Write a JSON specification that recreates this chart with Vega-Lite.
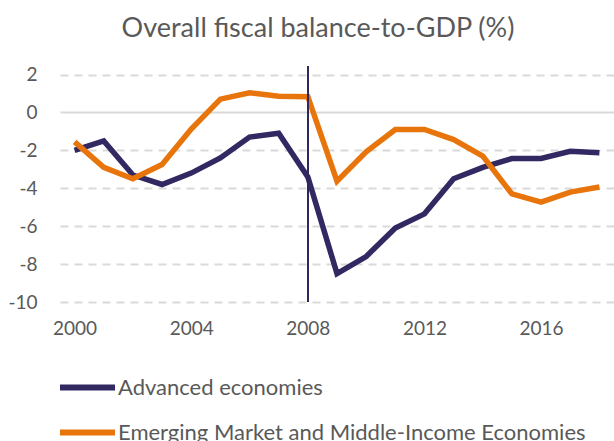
{
  "$schema": "https://vega.github.io/schema/vega-lite/v6.json",
  "width": 554,
  "height": 236,
  "autosize": {"type": "none"},
  "padding": {"left": 60, "top": 66, "right": 0, "bottom": 139},
  "background": "white",
  "title": {
    "text": "Overall fiscal balance-to-GDP (%)",
    "font": "Lato",
    "fontSize": 27,
    "fontWeight": "normal",
    "color": "#595959",
    "anchor": "middle",
    "dx": -19,
    "offset": 22
  },
  "config": {
    "view": {"stroke": null},
    "font": "Lato"
  },
  "data": {
    "values": [
      {"year": 2000, "series": "Advanced economies", "value": -2.0},
      {"year": 2001, "series": "Advanced economies", "value": -1.5},
      {"year": 2002, "series": "Advanced economies", "value": -3.3},
      {"year": 2003, "series": "Advanced economies", "value": -3.8},
      {"year": 2004, "series": "Advanced economies", "value": -3.2},
      {"year": 2005, "series": "Advanced economies", "value": -2.4},
      {"year": 2006, "series": "Advanced economies", "value": -1.3},
      {"year": 2007, "series": "Advanced economies", "value": -1.1},
      {"year": 2008, "series": "Advanced economies", "value": -3.4},
      {"year": 2009, "series": "Advanced economies", "value": -8.5},
      {"year": 2010, "series": "Advanced economies", "value": -7.6},
      {"year": 2011, "series": "Advanced economies", "value": -6.1},
      {"year": 2012, "series": "Advanced economies", "value": -5.35},
      {"year": 2013, "series": "Advanced economies", "value": -3.5},
      {"year": 2014, "series": "Advanced economies", "value": -2.9},
      {"year": 2015, "series": "Advanced economies", "value": -2.43},
      {"year": 2016, "series": "Advanced economies", "value": -2.43},
      {"year": 2017, "series": "Advanced economies", "value": -2.05},
      {"year": 2018, "series": "Advanced economies", "value": -2.13},
      {"year": 2000, "series": "Emerging Market and Middle-Income Economies", "value": -1.55},
      {"year": 2001, "series": "Emerging Market and Middle-Income Economies", "value": -2.9},
      {"year": 2002, "series": "Emerging Market and Middle-Income Economies", "value": -3.5},
      {"year": 2003, "series": "Emerging Market and Middle-Income Economies", "value": -2.75},
      {"year": 2004, "series": "Emerging Market and Middle-Income Economies", "value": -0.88},
      {"year": 2005, "series": "Emerging Market and Middle-Income Economies", "value": 0.7},
      {"year": 2006, "series": "Emerging Market and Middle-Income Economies", "value": 1.04},
      {"year": 2007, "series": "Emerging Market and Middle-Income Economies", "value": 0.86},
      {"year": 2008, "series": "Emerging Market and Middle-Income Economies", "value": 0.83},
      {"year": 2009, "series": "Emerging Market and Middle-Income Economies", "value": -3.63},
      {"year": 2010, "series": "Emerging Market and Middle-Income Economies", "value": -2.08},
      {"year": 2011, "series": "Emerging Market and Middle-Income Economies", "value": -0.9},
      {"year": 2012, "series": "Emerging Market and Middle-Income Economies", "value": -0.9},
      {"year": 2013, "series": "Emerging Market and Middle-Income Economies", "value": -1.43},
      {"year": 2014, "series": "Emerging Market and Middle-Income Economies", "value": -2.3},
      {"year": 2015, "series": "Emerging Market and Middle-Income Economies", "value": -4.3},
      {"year": 2016, "series": "Emerging Market and Middle-Income Economies", "value": -4.73},
      {"year": 2017, "series": "Emerging Market and Middle-Income Economies", "value": -4.2},
      {"year": 2018, "series": "Emerging Market and Middle-Income Economies", "value": -3.93}
    ]
  },
  "layer": [
    {
      "mark": {"type": "line", "strokeWidth": 5.5, "strokeJoin": "miter", "strokeCap": "butt"},
      "encoding": {
        "x": {
          "field": "year",
          "type": "quantitative",
          "scale": {"domain": [1999.5, 2018.5], "nice": false, "zero": false},
          "axis": {
            "title": null,
            "values": [2000, 2004, 2008, 2012, 2016],
            "format": "d",
            "grid": false,
            "ticks": false,
            "domain": false,
            "labelFontSize": 19,
            "labelColor": "#595959",
            "labelPadding": 17,
            "labelOverlap": false
          }
        },
        "y": {
          "field": "value",
          "type": "quantitative",
          "scale": {"domain": [-10, 2.45], "nice": false, "zero": false},
          "axis": {
            "title": null,
            "values": [-10, -8, -6, -4, -2, 0, 2],
            "labelExpr": "datum.value + ''",
            "grid": true,
            "gridColor": "#d9d9d9",
            "gridWidth": 2,
            "gridDash": {"condition": {"test": "datum.value === 0", "value": []}, "value": [8, 6]},
            "ticks": false,
            "domain": false,
            "labelFontSize": 19,
            "labelColor": "#595959",
            "labelPadding": 23,
            "labelOverlap": false
          }
        },
        "color": {
          "field": "series",
          "type": "nominal",
          "scale": {
            "domain": ["Advanced economies", "Emerging Market and Middle-Income Economies"],
            "range": ["#322862", "#e8740c"]
          },
          "legend": {
            "title": null,
            "orient": "none",
            "legendX": -3,
            "legendY": 291,
            "direction": "vertical",
            "symbolType": "stroke",
            "symbolSize": 3025,
            "symbolStrokeWidth": 6,
            "labelFontSize": 22,
            "labelColor": "#595959",
            "labelOffset": 0,
            "rowPadding": 2,
            "labelLimit": 600
          }
        }
      }
    },
    {
      "mark": {"type": "rule", "color": "#2e2a60", "strokeWidth": 1.5},
      "encoding": {"x": {"datum": 2008, "type": "quantitative"}}
    }
  ]
}
